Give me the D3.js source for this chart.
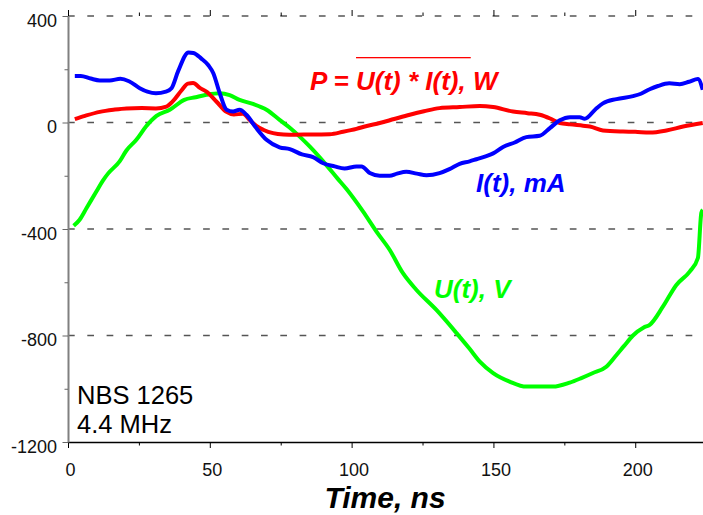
<!DOCTYPE html>
<html><head><meta charset="utf-8">
<script src="https://d3js.org/d3.v7.min.js"></script>
<style>body{margin:0;background:#fff;} svg{display:block;font-family:'Liberation Sans',Arial,sans-serif;}</style>
</head><body>
<svg id="chart"></svg>
<script>
// time (ns) and values
var current=[[2.4,175],[4.5,175],[8,165],[11.2,158],[14.7,158],[18.5,164],[21.5,155],[25.3,129],[28,116],[31,110],
  [34.5,116],[36.5,129],[38.8,192],[42.5,263],[44.2,261],[47,240],[49.5,215],[51.2,186],[53.5,110],[55.9,48],[58.2,41],
  [60.5,48],[62.9,29],[66.4,-21],[70,-65],[74.6,-93],[78.2,-100],[82.5,-120],[86.4,-130],[90,-153],[94,-165],[97.5,-173],
  [101.7,-165],[103.5,-165],[106.4,-190],[109.9,-200],[113.4,-200],[116,-192],[119.3,-185],[123,-192],[126.4,-198],
  [131,-190],[134.5,-175],[138.1,-155],[141.6,-146],[144,-138],[147,-128],[149.9,-116],[153.4,-92],[157.5,-75],
  [161.6,-55],[166.3,-50],[170,-20],[173.4,8],[177,20],[180.4,20],[182.2,14],[186,50],[188.6,72],[193.4,88],[199.2,99],
  [202,108],[205.1,125],[208,137],[212,147],[215.7,144],[219,153],[222.1,163],[223.8,123]];
var power=[[2.4,13],[6,25],[11.2,40],[16,48],[20.6,53],[26,54],[31,53],[34.7,60],[37,80],[40,120],[42.3,146],[44.1,148],
  [46.5,130],[48.8,116],[52.3,79],[55.9,40],[58.5,30],[61.7,33],[64,10],[66.4,-13],[69,-28],[72.3,-40],[76,-45],[80,-46],
  [85,-45],[92.3,-44],[97,-35],[101.7,-24],[105,-14],[109.9,-2],[115,13],[120.5,29],[125.5,42],[131,54],[138.1,58],
  [145.2,62],[149.9,58],[156.9,41],[162,35],[166.3,29],[170,15],[173.4,-2],[177,-7],[181.6,-12],[184,-15],[188.6,-30],
  [195.7,-34],[200,-35],[205.1,-38],[211,-30],[216.9,-15],[223.8,-2]];
var voltage=[[2,-388],[4.1,-365],[6.5,-322],[10,-259],[12.3,-218],[14.1,-192],[18.2,-146],[20.6,-105],[24.1,-65],
  [27.5,-15],[31.2,25],[35.9,48],[41,85],[45,95],[48.8,104],[53.5,110],[57,103],[60.5,85],[65.2,70],[70,48],[74.6,10],
  [78,-18],[81.7,-53],[85.2,-90],[91.1,-160],[95,-210],[98.2,-250],[104,-334],[108.7,-409],[113.4,-478],[118.1,-566],
  [122.8,-628],[129.9,-704],[137,-791],[141.6,-850],[145.2,-898],[149.9,-941],[155.7,-973],[161.6,-992],[171,-992],
  [176.9,-977],[181,-960],[185.1,-941],[189.8,-917],[193.4,-873],[196,-840],[199.2,-800],[203,-770],[205.1,-760],
  [209.8,-691],[214.5,-610],[219.2,-560],[222.1,-509],[223.3,-340],[223.8,-328]];
var xTicks=[0,50,100,150,200], xMinor=[25,75,125,175],
    yTicks=[400,0,-400,-800,-1200], yMinor=[200,-200,-600,-1000],
    gridVals=[400,0,-400,-800];

var W=703,H=515;
var x=d3.scaleLinear().domain([0,224]).range([68,703.3]),
    y=d3.scaleLinear().domain([-1200,400]).range([442,16]);
var svg=d3.select('#chart').attr('width',W).attr('height',H);

// dashed grid
svg.selectAll('.grid').data(gridVals).join('line').attr('class','grid')
   .attr('x1',x(0)).attr('x2',W).attr('y1',d=>y(d)).attr('y2',d=>y(d))
   .attr('stroke','#555').attr('stroke-width',1.5).attr('stroke-dasharray','6.7,12.6');

// top ticks
svg.append('g').attr('transform','translate(0,'+y(400)+')')
   .call(d3.axisTop(x).tickValues(xTicks).tickSize(6).tickFormat(''))
   .call(g=>g.select('.domain').remove());
svg.append('g').attr('transform','translate(0,'+y(400)+')')
   .call(d3.axisTop(x).tickValues(xMinor).tickSize(3.5).tickFormat(''))
   .call(g=>g.select('.domain').remove());

// bottom axis
var bx=svg.append('g').attr('transform','translate(0,'+y(-1200)+')')
   .call(d3.axisBottom(x).tickValues(xTicks).tickSize(6).tickSizeOuter(0).tickPadding(15).tickFormat(d=>String(d)));
bx.select('.domain').attr('stroke','#000').attr('stroke-width',1.5);
bx.selectAll('text').attr('font-size',18).attr('fill','#111').attr('dx',2)
   .attr('font-family',"'Liberation Sans',Arial,sans-serif");
svg.append('g').attr('transform','translate(0,'+y(-1200)+')')
   .call(d3.axisBottom(x).tickValues(xMinor).tickSize(3.5).tickFormat(''))
   .call(g=>g.select('.domain').remove());

// left axis
var ly=svg.append('g').attr('transform','translate('+x(0)+',0)')
   .call(d3.axisLeft(y).tickValues(yTicks).tickSize(5.5).tickSizeOuter(0).tickPadding(5.5).tickFormat(d=>String(d)));
ly.select('.domain').attr('stroke','#808080').attr('stroke-width',2);
ly.selectAll('line').attr('stroke','#666');
ly.selectAll('text').attr('font-size',18).attr('fill','#111').attr('dy','0.58em')
   .attr('font-family',"'Liberation Sans',Arial,sans-serif");
svg.append('g').attr('transform','translate('+x(0)+',0)')
   .call(d3.axisLeft(y).tickValues(yMinor).tickSize(3.5).tickFormat(''))
   .call(g=>{g.select('.domain').remove();g.selectAll('line').attr('stroke','#666');});

// traces
var line=d3.line().x(d=>x(d[0])).y(d=>y(d[1])).curve(d3.curveMonotoneX);
[[voltage,'#00ff00'],[power,'#ff0000'],[current,'#0000ff']].forEach(function(s){
  svg.append('path').datum(s[0]).attr('d',line).attr('fill','none')
     .attr('stroke',s[1]).attr('stroke-width',4).attr('stroke-linejoin','round');
});

// labels
var lab=svg.append('g').attr('font-weight','bold').attr('font-style','italic').attr('font-size',26);
var pt=lab.append('text').attr('x',310).attr('y',90).attr('fill','#ff0000').text('P = U(t) * I(t), W');
var n=pt.node(), x0=310+n.getSubStringLength(0,4), x1=310+n.getSubStringLength(0,16)+5;
svg.append('rect').attr('x',x0).attr('width',x1-x0).attr('y',57).attr('height',1.3)
   .attr('fill','#ff0000');
lab.append('text').attr('x',476).attr('y',192).attr('fill','#0000ff').text('I(t), mA');
lab.append('text').attr('x',434).attr('y',298).attr('fill','#00ff00').text('U(t), V');

svg.append('text').attr('x',77).attr('y',404).attr('font-size',25.5).attr('fill','#000').text('NBS 1265');
svg.append('text').attr('x',77).attr('y',432.5).attr('font-size',25.5).attr('fill','#000').text('4.4 MHz');

svg.append('text').attr('x',385).attr('y',508).attr('text-anchor','middle')
   .attr('font-size',30).attr('font-weight','bold').attr('font-style','italic').attr('fill','#000')
   .text('Time, ns');
</script>
</body></html>
